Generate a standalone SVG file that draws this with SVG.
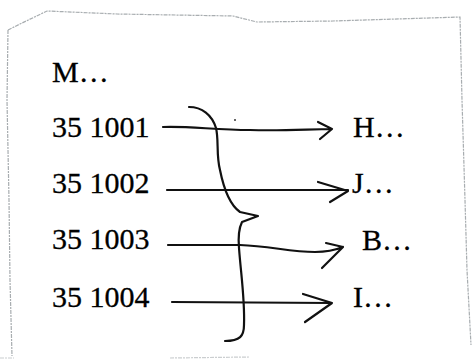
<svg xmlns="http://www.w3.org/2000/svg" width="472" height="360" viewBox="0 0 472 360">
<style>
.t{font-family:"Liberation Serif","Times New Roman",serif;font-size:30px;fill:#000;stroke:#000;stroke-width:0.3}
.ink{fill:none;stroke:#111;stroke-width:2.2;stroke-linecap:round;stroke-linejoin:round}
.edge{fill:none;stroke:#a8adb0;stroke-width:1.2;stroke-dasharray:4 1 2 1}
</style>
<rect width="472" height="360" fill="#fff"/>
<g id="paper">
<path class="edge" d="M8,30 L20,24 L47,11 L117,14 L233,16 L257,22 L333,21 L460,17 L462,100 L465,200 L467,270 L471,345"/>
<path class="edge" d="M8,30 L7,100 L9,200 L10,280 L12,356"/>
<path class="edge" d="M0,358 L14,358 M170,358 L250,357" opacity="0.6"/>
</g>
<g id="title"><text class="t" x="52" y="82">M…</text></g>
<g id="src1"><text class="t" x="52" y="137">35 1001</text></g>
<g id="src2"><text class="t" x="52" y="193">35 1002</text></g>
<g id="src3"><text class="t" x="52" y="249">35 1003</text></g>
<g id="src4"><text class="t" x="52" y="307">35 1004</text></g>
<g id="dst1"><text class="t" x="353" y="137">H…</text></g>
<g id="dst2"><text class="t" x="352" y="193">J…</text></g>
<g id="dst3"><text class="t" x="362" y="250">B…</text></g>
<g id="dst4"><text class="t" x="353" y="307">I…</text></g>
<g id="connectors">
<path class="ink" d="M163,127 C190,126 215,130 250,130 C285,131 310,129 332,129 M318,122 L332,129 L320,139"/>
<path class="ink" d="M167,190 L348,190 M318,182 L348,191 L330,202"/>
<path class="ink" d="M168,245 L240,245 C270,246 290,252 315,252 C330,252 338,249 343,247 M326,243 L343,247 L322,268"/>
<path class="ink" d="M172,302 L332,303 M303,294 L332,303 L305,322"/>
</g>
<g id="brace">
<path class="ink" d="M189,107 C202,107 212,115 216,128 C219,140 216,155 220,170 C224,190 230,205 240,212 L258,216 L242,222 C239,228 238,236 239,248 C241,275 245,300 244,325 C244,336 240,341 225,341"/>
<circle cx="235" cy="120" r="1" fill="#333"/>
</g>
</svg>
